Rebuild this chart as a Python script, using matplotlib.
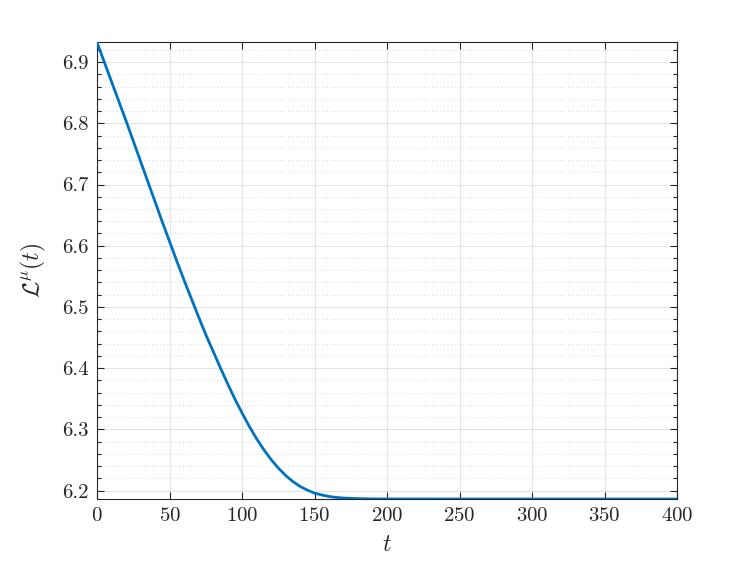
import numpy as np
import matplotlib
matplotlib.use('Agg')
import matplotlib.pyplot as plt
from matplotlib.ticker import MultipleLocator

# values
t = [0, 5, 10, 15, 20, 25, 30, 35, 40, 45, 50, 55, 60, 65, 70, 75, 80, 85, 90, 95,
     100, 105, 110, 115, 120, 125, 130, 135, 140, 145, 150, 155, 160, 165, 170, 175,
     180, 190, 200, 250, 300, 350, 400]
L = [6.932, 6.900, 6.868, 6.836, 6.804, 6.771, 6.738, 6.705, 6.672, 6.639, 6.607,
     6.575, 6.544, 6.514, 6.484, 6.455, 6.428, 6.401, 6.375, 6.350, 6.327, 6.305,
     6.285, 6.267, 6.251, 6.237, 6.225, 6.215, 6.207, 6.201, 6.196, 6.193, 6.1905,
     6.189, 6.188, 6.1875, 6.187, 6.1866, 6.1865, 6.1864, 6.1864, 6.1864, 6.1864]
xticks = [0, 50, 100, 150, 200, 250, 300, 350, 400]
yticks = [6.2, 6.3, 6.4, 6.5, 6.6, 6.7, 6.8, 6.9]

plt.rcParams['font.family'] = 'serif'
plt.rcParams['font.serif'] = ['cmr10']
plt.rcParams['mathtext.fontset'] = 'cm'
plt.rcParams['axes.formatter.use_mathtext'] = True

fig = plt.figure(figsize=(7.47, 5.61), dpi=100)
ax = fig.add_axes([0.1299, 0.1105, 0.7764, 0.8146])

ax.plot(t, L, color='#0072BD', lw=2.0, zorder=3)

ax.set_xlim(0, 400)
ax.set_ylim(6.1864, 6.9327)
ax.set_xticks(xticks)
ax.set_yticks(yticks)
ax.set_yticklabels([f'{v:.1f}' for v in yticks])
ax.yaxis.set_minor_locator(MultipleLocator(0.02))

ax.grid(True, which='major', color='#e3e3e3', lw=0.8, zorder=0)
ax.grid(True, which='minor', axis='y', color='#d0d0d0', lw=0.7, ls=(0, (1, 3)), zorder=0)

ax.tick_params(which='both', direction='in', top=True, right=True, colors='#262626',
               labelsize=15, width=0.8)
ax.tick_params(which='major', length=5, pad=6)
ax.tick_params(which='minor', length=3)
for s in ax.spines.values():
    s.set_color('#262626')
    s.set_linewidth(0.8)

ax.set_xlabel(r'$t$', fontsize=17, color='#262626', labelpad=6)
ax.set_ylabel(r'$\mathcal{L}^{\mu}(t)$', fontsize=17, color='#262626', labelpad=10)

fig.savefig('out.png', dpi=100)
